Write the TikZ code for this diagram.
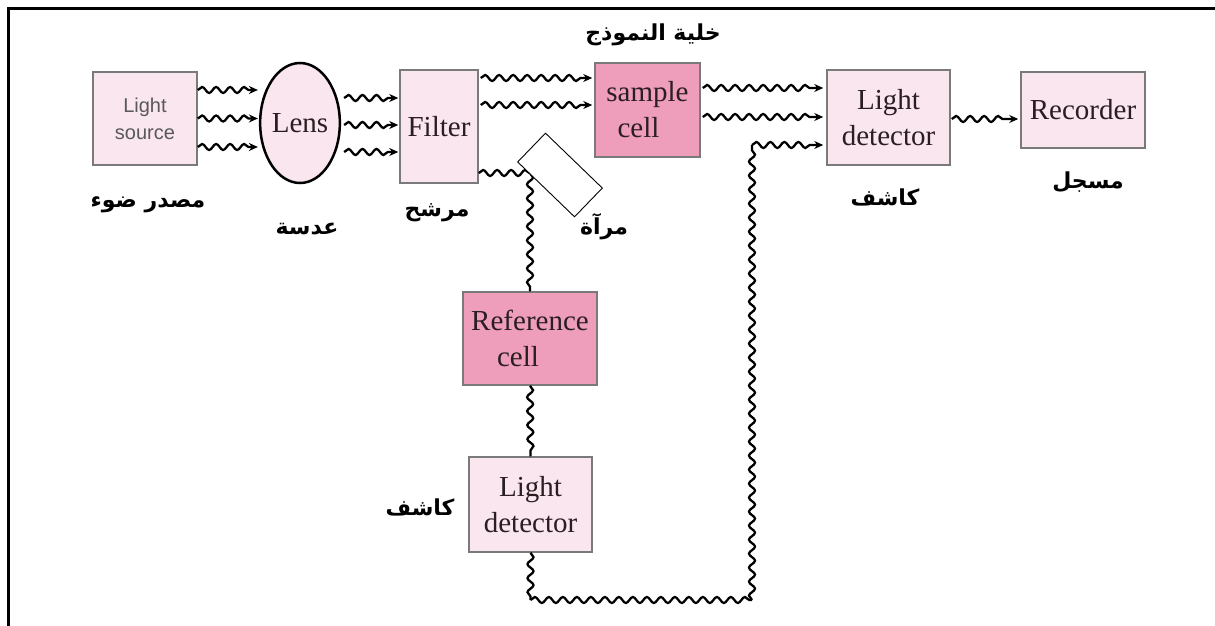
\documentclass[tikz,border=0pt]{standalone}
\usepackage{fontspec}
\setmainfont{Liberation Serif}
\setsansfont{Liberation Sans}
\newfontfamily\arabicfont[Script=Arabic]{DejaVu Sans}
\TeXXeTstate=1
\usetikzlibrary{calc,decorations.pathmorphing,arrows.meta,shapes.geometric}
\definecolor{lightpink}{HTML}{F9E6EE}
\definecolor{darkpink}{HTML}{EE9DBA}
\definecolor{boxline}{HTML}{7A7A7A}
\definecolor{txt}{HTML}{2B1E22}
\begin{document}
\begin{tikzpicture}[x=1pt,y=-1pt,
  pbox/.style={draw=boxline,line width=1.5pt,fill=lightpink,inner sep=0pt,align=center,
    font=\fontsize{29}{36}\selectfont,text=txt},
  sbox/.style={pbox,fill=darkpink},
  wave/.style={line width=2.3pt,decorate,decoration={snake,amplitude=3pt,segment length=14pt}},
  wavearrow/.style={line width=2.3pt,decorate,decoration={snake,amplitude=3pt,segment length=14pt,post length=9pt},
    -{Stealth[length=9pt,width=8pt]}},
  lab/.style={font=\arabicfont\bfseries\fontsize{22}{26}\selectfont,inner sep=0pt}]
\useasboundingbox (0,0) rectangle (1215,626);
\draw[line width=3pt] (8,626) -- (8,9) -- (1215,9);

% nodes
\node[pbox,minimum width=104pt,minimum height=93pt,font=\sffamily\fontsize{20}{27}\selectfont,text=black!65] (ls) at (145,118.5) {Light\\source};
\node[ellipse,draw=black,line width=2.5pt,fill=lightpink,minimum width=70pt,minimum height=120pt,inner sep=0pt,
  font=\fontsize{29}{36}\selectfont,text=txt] (lens) at (300,123) {Lens};
\node[pbox,minimum width=78pt,minimum height=113pt] (filt) at (439,126.5) {Filter};
\node[sbox,minimum width=105pt,minimum height=94pt] (sc) at (647.5,110) {sample\\cell\hspace*{18pt}};
\node[pbox,minimum width=123pt,minimum height=95pt] (det) at (888.5,117.5) {Light\\detector};
\node[pbox,minimum width=124pt,minimum height=76pt] (rec) at (1083,110) {Recorder};
\node[sbox,minimum width=134pt,minimum height=93pt] (ref) at (530,338.5) {Reference\\cell\hspace*{24pt}};
\node[pbox,minimum width=123pt,minimum height=95pt] (det2) at (530.5,504.5) {Light\\detector};

% labels
\node[lab] (l1) at (148,205) {\beginR مصدر ضوء\endR};
\node[lab] (l2) at (307,229) {\beginR عدسة\endR};
\node[lab] (l3) at (437,213) {\beginR مرشح\endR};
\node[lab] (l4) at (653,35) {\beginR خلية النموذج\endR};
\node[lab] (l5) at (604,227) {\beginR مرآة\endR};
\node[lab] (l6) at (885,197) {\beginR كاشف\endR};
\node[lab] (l7) at (1088,182) {\beginR مسجل\endR};
\node[lab] (l8) at (420,507) {\beginR كاشف\endR};

% source -> lens
\foreach \dy in {-28.5,0,28.5}
  \draw[wavearrow] ($(ls.east)+(0,\dy)$) -- ($(ls.east -| lens.west)+(-1,\dy)$);
% lens -> filter
\foreach \dy in {-28.5,-1.5,25.5}
  \draw[wavearrow] ($(filt.west -| lens.east)+(3,\dy)$) -- ($(filt.west)+(-1,\dy)$);
% filter -> sample cell
\foreach \dy in {-32,-5}
  \draw[wavearrow] ($(sc.west -| filt.east)+(2,\dy)$) -- ($(sc.west)+(-2,\dy)$);
% sample cell -> detector
\foreach \dy in {-29.5,-0.5}
  \draw[wavearrow] ($(det.west -| sc.east)+(2,\dy)$) -- ($(det.west)+(-3,\dy)$);
% detector -> recorder
\draw[wavearrow] ($(det.east)+(1,1.5)$) -- ($(rec.west |- det.east)+(-2,1.5)$);

% reference beam
\coordinate (mc) at (530,173);
\draw[wave] (filt.east |- mc) -- (mc);
\draw[wave] (mc) -- (ref.north);
\draw[wave] (ref.south) -- (det2.north);
\coordinate (b1) at (det2.south |- 0,600);
\coordinate (b2) at (752,600);
\coordinate (b3) at (752,145);
\draw[wave] (det2.south) -- (b1);
\draw[wave] (b1) -- (b2);
\draw[wave] (b2) -- (b3);
\draw[wavearrow] (b3) -- ($(b3 -| det.west)+(-3,0)$);

% mirror
\node[draw=black,fill=white,line width=0.9pt,minimum width=79pt,minimum height=40pt,inner sep=0pt,rotate=-44] (mir) at (560,175) {};
\end{tikzpicture}
\end{document}
